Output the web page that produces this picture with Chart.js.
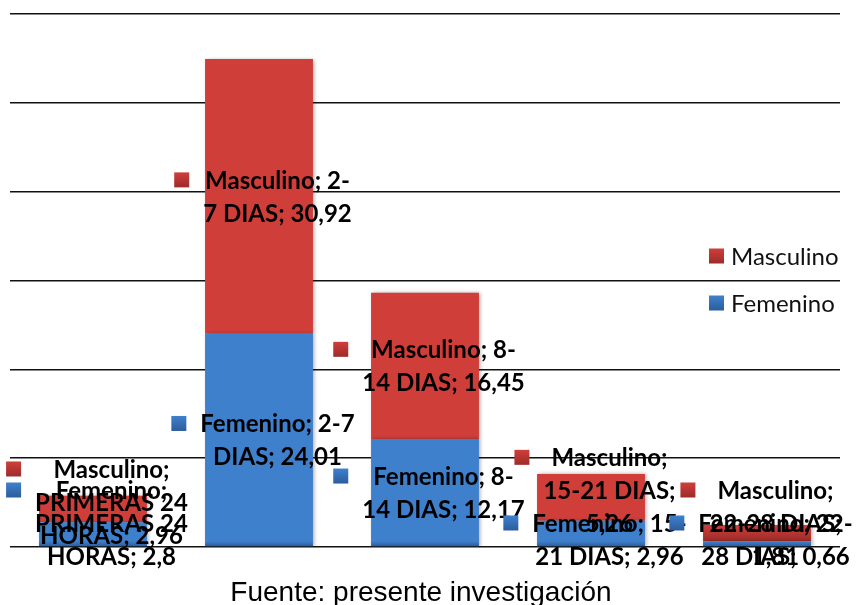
<!DOCTYPE html>
<html>
<head>
<meta charset="utf-8">
<script src="https://cdn.jsdelivr.net/npm/chart.js@4.4.1/dist/chart.umd.min.js"></script>
<style>
    html, body { margin: 0; padding: 0; background: #fff; }
</style>
</head>
<body>
<canvas id="grafico" width="856" height="605"></canvas>
<script>
// Datos
const categorias = ['PRIMERAS 24 HORAS', '2-7 DIAS', '8-14 DIAS', '15-21 DIAS', '22-28 DIAS'];
const femenino = [2.8, 24.01, 12.17, 2.96, 0.66];
const masculino = [2.96, 30.92, 16.45, 5.26, 1.81];
const ticksY = [0, 10, 20, 30, 40, 50, 60];
const fuente = 'Fuente: presente investigación';

// colores del degradado (arriba, abajo)
const colores = {
    Femenino: ['#3f80cd', '#2c5d9b'],
    Masculino: ['#d03e3a', '#9c2c29']
};

const fontEtiqueta = 'bold 24px Lato';
const altoLinea = 33;
const anchoMax = 152;

function degradado(ctx, top, bottom, par) {
    const g = ctx.createLinearGradient(0, top, 0, bottom);
    g.addColorStop(0, par[0]);
    g.addColorStop(1, par[1]);
    return g;
}

// ancho aproximado como en Calibri (los dígitos son más estrechos que en Lato)
function medir(ctx, t) {
    const digitos = (t.match(/[0-9]/g) || []).length;
    return ctx.measureText(t).width - digitos * 1.75;
}

// parte el texto en líneas (corta en espacios y guiones)
function partir(ctx, texto, max) {
    const piezas = texto.match(/[^ -]+[ -]?|[ -]/g);
    const lineas = [];
    let actual = '';
    piezas.forEach(p => {
        const prueba = actual + p;
        if (actual && medir(ctx, prueba.trim()) > max) {
            lineas.push(actual.trim());
            actual = p;
        } else {
            actual = prueba;
        }
    });
    if (actual.trim()) lineas.push(actual.trim());
    return lineas;
}

// degradado por tramo + sombra suave
const sombra = {
    id: 'sombra',
    beforeDatasetsDraw(chart) {
        const c = chart.ctx;
        chart.data.datasets.forEach((ds, d) => {
            chart.getDatasetMeta(d).data.forEach(bar => {
                bar.options.backgroundColor = degradado(c, bar.y, bar.base, colores[ds.label]);
            });
        });
        c.save();
        c.shadowColor = 'rgba(0,0,0,0.35)';
        c.shadowBlur = 4;
        c.shadowOffsetX = 1.5;
        c.shadowOffsetY = 0.5;
    },
    afterDatasetsDraw(chart) {
        chart.ctx.restore();
    }
};

const etiquetas = {
    id: 'etiquetas',
    afterDraw(chart) {
        const ctx = chart.ctx;
        const area = chart.chartArea;
        const limite = area.bottom + 9;
        ctx.save();
        ctx.font = fontEtiqueta;
        ctx.textBaseline = 'middle';
        ctx.textAlign = 'center';
        chart.data.datasets.forEach((ds, d) => {
            const meta = chart.getDatasetMeta(d);
            meta.data.forEach((bar, i) => {
                const texto = ds.label + '; ' + categorias[i] + '; ' + String(ds.data[i]).replace('.', ',');
                const lineas = partir(ctx, texto, anchoMax);
                const ancho = Math.max(...lineas.map(l => ctx.measureText(l).width));
                const bloque = 15 + 14 + ancho;
                const izq = bar.x + 4 - bloque / 2;
                const tx = izq + 29 + ancho / 2;
                const alto = (lineas.length - 1) * altoLinea;
                let primera = (bar.y + bar.base) / 2 - alto / 2;
                // tramos pequeños: las etiquetas se separan (abajo la inferior, arriba la superior)
                if (bar.base - bar.y < 60) {
                    if (d === 0) primera = limite - alto;
                    else primera -= 7;
                }
                if (primera + alto > limite) primera = limite - alto;
                // marcador
                ctx.fillStyle = degradado(ctx, primera - 7.5, primera + 7.5, colores[ds.label]);
                ctx.fillRect(izq, primera - 7.5, 15, 15);
                ctx.fillStyle = '#000';
                lineas.forEach((l, k) => ctx.fillText(l, tx, primera + k * altoLinea + 1));
            });
        });
        ctx.restore();
    }
};

const leyenda = {
    id: 'leyenda',
    afterDraw(chart) {
        const ctx = chart.ctx;
        ctx.save();
        ctx.font = '24px Lato';
        ctx.textBaseline = 'middle';
        ctx.textAlign = 'left';
        const orden = chart.data.datasets.slice().reverse();
        orden.forEach((ds, k) => {
            const cy = 256 + k * 47;
            ctx.fillStyle = degradado(ctx, cy - 7.5, cy + 7.5, colores[ds.label]);
            ctx.fillRect(709, cy - 7.5, 15, 15);
            ctx.fillStyle = '#111';
            ctx.fillText(ds.label, 731, cy + 1);
        });
        // fuente
        ctx.font = '28px "Liberation Sans"';
        ctx.textAlign = 'center';
        ctx.textBaseline = 'alphabetic';
        ctx.fillStyle = '#000';
        ctx.fillText(fuente, 421, 601);
        ctx.restore();
    }
};

document.addEventListener('DOMContentLoaded', function () {
    const ctx = document.getElementById('grafico').getContext('2d');
    new Chart(ctx, {
        type: 'bar',
        data: {
            labels: categorias,
            datasets: [
                { label: 'Femenino', data: femenino, backgroundColor: colores.Femenino[0], borderWidth: 0 },
                { label: 'Masculino', data: masculino, backgroundColor: colores.Masculino[0], borderWidth: 0 }
            ]
        },
        options: {
            responsive: false,
            animation: false,
            layout: { padding: { left: 10, right: 16, top: 14, bottom: 50 } },
            categoryPercentage: 0.65,
            barPercentage: 1,
            plugins: {
                legend: { display: false },
                tooltip: { enabled: false }
            },
            scales: {
                x: {
                    stacked: true,
                    grid: { display: false },
                    border: { display: false },
                    ticks: { display: false }
                },
                y: {
                    stacked: true,
                    min: ticksY[0],
                    max: ticksY[ticksY.length - 1],
                    afterBuildTicks(axis) { axis.ticks = ticksY.map(v => ({ value: v })); },
                    grid: { color: '#111', lineWidth: 1.6, drawTicks: false },
                    border: { display: false },
                    ticks: { display: false }
                }
            }
        },
        plugins: [sombra, etiquetas, leyenda]
    });
});
</script>
</body>
</html>
